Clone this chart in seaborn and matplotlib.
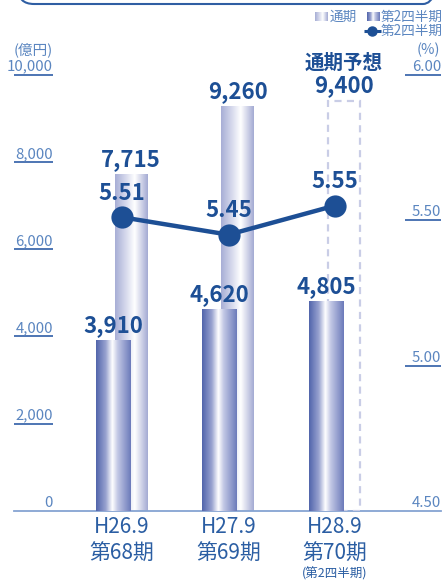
import numpy as np
import pandas as pd
import matplotlib
matplotlib.use("Agg")
import matplotlib.pyplot as plt
from matplotlib.colors import LinearSegmentedColormap
from matplotlib.patches import FancyBboxPatch
import seaborn as sns

# ---- data -------------------------------------------------------------
period_dates = ["H26.9", "H27.9", "H28.9"]
period_terms = ["第68期", "第69期", "第70期"]
period_notes = ["", "", "(第2四半期)"]
full_year = [7715, 9260, 9400]          # 通期 (億円)
full_year_forecast = [False, False, True]
second_quarter = [3910, 4620, 4805]     # 第2四半期 (億円)
ratio_2q = [5.51, 5.45, 5.55]           # 第2四半期 (%)
left_ticks = [0, 2000, 4000, 6000, 8000, 10000]
right_ticks = [4.50, 5.00, 5.50, 6.00]

# ---- style ------------------------------------------------------------
sns.set_style("white")
plt.rcParams["font.family"] = ["Noto Sans CJK JP", "DejaVu Sans"]

NAVY = "#1d4f95"
TICK_BLUE = "#5b86c0"
RULE_BLUE = "#3f6aae"
BASE_BLUE = "#86a4d2"
CAT_BLUE = "#2b5ea3"
DASH_LAV = "#c9cde6"

dark_cmap = LinearSegmentedColormap.from_list(
    "dark", [(0, "#5164ab"), (0.28, "#98a2d0"), (0.47, "#ffffff"),
             (0.62, "#c3c8e5"), (1, "#6b7aba")])
light_cmap = LinearSegmentedColormap.from_list(
    "light", [(0, "#a7aed5"), (0.35, "#d9dcee"), (0.6, "#ffffff"),
              (1, "#a3aad3")])

W, H = 445, 582
fig = plt.figure(figsize=(W / 100, H / 100), dpi=100)


def fx(px):
    return px / W


def fy(py):
    return 1 - py / H


ax_left, ax_right, ax_top, ax_bottom = 14, 441, 74.7, 511
ax = fig.add_axes([fx(ax_left), fy(ax_bottom),
                   fx(ax_right - ax_left), (ax_bottom - ax_top) / H])

pos = np.arange(len(period_dates), dtype=float)
dark_off, light_off = -0.085, 0.085
dark_w, light_w = 0.325, 0.305

df = pd.DataFrame({
    "pos": pos,
    "full": full_year,
    "q2": second_quarter,
    "ratio": ratio_2q,
})

# full-year bars (behind)
sns.barplot(x=df["pos"] + light_off, y=df["full"], native_scale=True,
            width=light_w, orient="x", errorbar=None, ax=ax,
            color="none", edgecolor="none", zorder=2)
n_full = len(ax.patches)
full_patches = list(ax.patches)
# second-quarter bars (front)
sns.barplot(x=df["pos"] + dark_off, y=df["q2"], native_scale=True,
            width=dark_w, orient="x", errorbar=None, ax=ax,
            color="none", edgecolor="none", zorder=4)
q2_patches = list(ax.patches)[n_full:]

grad = np.linspace(0, 1, 256).reshape(1, -1)

for p, forecast in zip(full_patches, full_year_forecast):
    x0, y0, w, h = p.get_x(), p.get_y(), p.get_width(), p.get_height()
    if forecast:
        p.set_facecolor("none")
        p.set_edgecolor(DASH_LAV)
        p.set_linewidth(1.6)
        p.set_linestyle((0, (3.2, 2.4)))
        p.set_zorder(3)
    else:
        ax.imshow(grad, extent=[x0, x0 + w, y0, y0 + h], aspect="auto",
                  cmap=light_cmap, zorder=2, interpolation="bilinear")

for p in q2_patches:
    x0, y0, w, h = p.get_x(), p.get_y(), p.get_width(), p.get_height()
    ax.imshow(grad, extent=[x0, x0 + w, y0, y0 + h], aspect="auto",
              cmap=dark_cmap, zorder=4, interpolation="bilinear")

ax.set_xlim(-1.014, 2.995)
ax.set_ylim(0, 10000)
ax.set_xticks([])
ax.set_yticks([])
ax.set_xlabel("")
ax.set_ylabel("")
for s in ["top", "left", "right"]:
    ax.spines[s].set_visible(False)
ax.spines["bottom"].set_color(BASE_BLUE)
ax.spines["bottom"].set_linewidth(1.3)
ax.patch.set_alpha(0)

# value labels on bars
for p, v in zip(full_patches, full_year):
    ax.annotate(f"{v:,}", (p.get_x() + p.get_width() / 2, v),
                xytext=(0, 15), textcoords="offset pixels",
                ha="center", va="center", fontsize=16,
                fontweight="bold", color=NAVY, zorder=6)
fp = full_patches[-1]
ax.annotate("通期予想", (fp.get_x() + fp.get_width() / 2, full_year[-1]),
            xytext=(0, 38), textcoords="offset pixels",
            ha="center", va="center", fontsize=14,
            fontweight="bold", color=NAVY)
for p, v in zip(q2_patches, second_quarter):
    ax.annotate(f"{v:,}", (p.get_x() + p.get_width() / 2, v),
                xytext=(0, 15), textcoords="offset pixels",
                ha="center", va="center", fontsize=16,
                fontweight="bold", color=NAVY, zorder=6)

# left scale: labels with short rules
yax = ax.get_yaxis_transform()
rule_l = (53 - ax_left) / (ax_right - ax_left)
rule_r = (405 - ax_left) / (ax_right - ax_left)
for t in left_ticks:
    if t > 0:
        ax.plot([0, rule_l], [t, t], transform=yax, color=RULE_BLUE,
                lw=1.3, solid_capstyle="butt", clip_on=False)
    ax.annotate(f"{t:,}", (rule_l, t), xycoords=yax,
                xytext=(0, 4), textcoords="offset pixels",
                ha="right", va="baseline", fontsize=10.8, color=TICK_BLUE)

# ratio line on the secondary scale
ax2 = ax.twinx()
sns.lineplot(x=df["pos"], y=df["ratio"], ax=ax2, color=NAVY, lw=3.2,
             marker="o", markersize=16, markeredgewidth=0,
             markerfacecolor=NAVY)
ax2.set_ylim(4.5, 6.0)
ax2.set_xlim(-1.014, 2.995)
ax2.set_xticks([])
ax2.set_yticks([])
ax2.set_xlabel("")
ax2.set_ylabel("")
for s in ax2.spines.values():
    s.set_visible(False)

for x, r in zip(pos, ratio_2q):
    ax2.annotate(f"{r:.2f}", (x, r), xytext=(0, 24),
                 textcoords="offset pixels", ha="center", va="center",
                 fontsize=16, fontweight="bold", color=NAVY)

yax2 = ax2.get_yaxis_transform()
for t in right_ticks:
    if t > right_ticks[0]:
        ax2.plot([rule_r, 1], [t, t], transform=yax2, color=RULE_BLUE,
                 lw=1.3, solid_capstyle="butt", clip_on=False)
    ax2.annotate(f"{t:.2f}", (1, t), xycoords=yax2,
                 xytext=(0, 4), textcoords="offset pixels",
                 ha="right", va="baseline", fontsize=10.8, color=TICK_BLUE)

# category labels
xax = ax.get_xaxis_transform()
for x, d, term, note in zip(pos, period_dates, period_terms, period_notes):
    ax.annotate(d, (x, 0), xycoords=xax, xytext=(0, -16),
                textcoords="offset pixels", ha="center", va="center",
                fontsize=15, color=CAT_BLUE, annotation_clip=False)
    ax.annotate(term, (x, 0), xycoords=xax, xytext=(0, -43),
                textcoords="offset pixels", ha="center", va="center",
                fontsize=15, color=CAT_BLUE, annotation_clip=False)
    if note:
        ax.annotate(note, (x, 0), xycoords=xax, xytext=(0, -63),
                    textcoords="offset pixels", ha="center", va="center",
                    fontsize=9, color=CAT_BLUE, annotation_clip=False)

# ---- overlay: frame, units, legend -----------------------------------
ov = fig.add_axes([0, 0, 1, 1], zorder=10)
ov.set_xlim(0, W)
ov.set_ylim(H, 0)
ov.axis("off")
ov.patch.set_alpha(0)

ov.add_patch(FancyBboxPatch((18, -60), 421, 64,
                            boxstyle="round,pad=0,rounding_size=16",
                            fill=False, edgecolor="#2f5ea3", lw=1.5))

ov.text(33, 50, "(億円)", ha="center", va="center", fontsize=10.5,
        color=TICK_BLUE)
ov.text(428, 50, "(%)", ha="center", va="center", fontsize=10.5,
        color=TICK_BLUE)

sw = np.linspace(0, 1, 64).reshape(1, -1)
ov.imshow(sw, extent=[315, 328, 21, 12], cmap=light_cmap, aspect="auto",
          interpolation="bilinear")
ov.text(330, 16.5, "通期", ha="left", va="center", fontsize=9.8,
        color=TICK_BLUE)
ov.imshow(sw, extent=[367, 380, 21, 12], cmap=dark_cmap, aspect="auto",
          interpolation="bilinear")
ov.text(381, 16.5, "第2四半期", ha="left", va="center", fontsize=9.8,
        color=TICK_BLUE)
ov.plot([364, 381], [31, 31], color=NAVY, lw=2.2, solid_capstyle="butt")
ov.plot([372], [31], "o", color=NAVY, markersize=6.5)
ov.text(381, 31, "第2四半期", ha="left", va="center", fontsize=9.8,
        color=TICK_BLUE)
ov.set_xlim(0, W)
ov.set_ylim(H, 0)

fig.savefig("out.png", dpi=100)
